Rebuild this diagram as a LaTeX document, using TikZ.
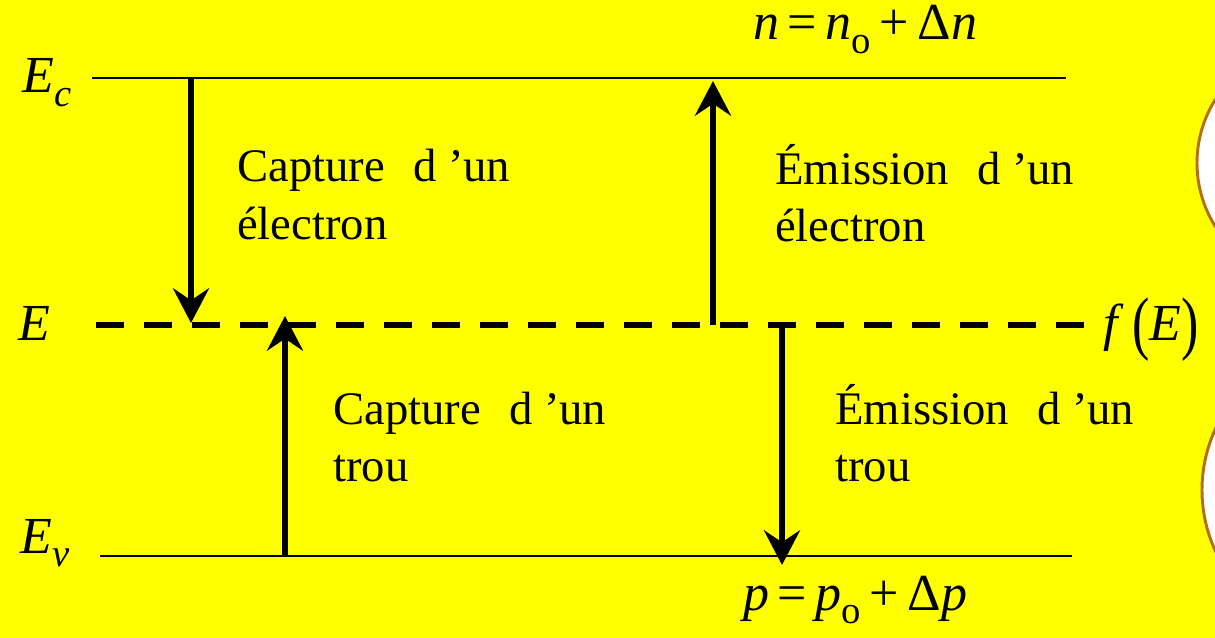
\documentclass[tikz,border=0pt]{standalone}
\usepackage{fontspec}
\setmainfont{Liberation Serif}
\usetikzlibrary{arrows.meta}
\definecolor{bg}{HTML}{FFFF00}
\definecolor{rim}{HTML}{B06E1E}
\newcommand{\lowsub}[1]{\raisebox{-0.26em}{\fontsize{29}{30}\selectfont #1}}
\newcommand{\bigpar}[1]{\raisebox{-0.12em}{\scalebox{1}[1.35]{#1}}}
\begin{document}
\begin{tikzpicture}[x=0.75pt,y=-0.75pt,
  level/.style={line width=2.2pt},
  trap/.style={line width=4.8pt, dash pattern=on 21pt off 15pt},
  jump/.style={line width=5pt,-{Stealth[length=26pt,width=27pt,inset=9pt]}},
  txt/.style={anchor=base west, inner sep=0pt, font=\fontsize{35}{40}\selectfont},
  mth/.style={anchor=base west, inner sep=0pt, font=\fontsize{39}{44}\selectfont},
  bubble/.style={fill=white, draw=rim, line width=2.2pt}]
\useasboundingbox (0,0) rectangle (1215,638);
\clip (0,0) rectangle (1215,638);
\fill[bg] (0,0) rectangle (1215,638);

% side bubbles
\draw[bubble] (1316,163) circle[radius=89.25pt];
\draw[bubble] (1347,490) circle[radius=108.75pt];

% levels
\coordinate (ecL) at (92,78);   \coordinate (ecR) at (1066,78);
\coordinate (etL) at (96,325);  \coordinate (etR) at (1095,325);
\coordinate (evL) at (100,556); \coordinate (evR) at (1072,556);
\draw[level] (ecL) -- (ecR);
\draw[trap] (etL) -- (etR);
\draw[level] (evL) -- (evR);

% transitions
\coordinate (a1s) at (191,78);  \coordinate (a1e) at (191,323);
\coordinate (a2s) at (285,557); \coordinate (a2e) at (285,316);
\coordinate (a3s) at (713,325); \coordinate (a3e) at (713,81);
\coordinate (a4s) at (782,325); \coordinate (a4e) at (782,565);
\draw[jump] (a1s) -- (a1e);
\draw[jump] (a2s) -- (a2e);
\draw[jump] (a3s) -- (a3e);
\draw[jump] (a4s) -- (a4e);

% level labels
\node[mth] (lEc) at (22,93) {\textit{E}\lowsub{\textit{c}}};
\node[mth] (lE) at (18,340) {\textit{E}};
\node[mth] (lEv) at (20,553) {\textit{E}\lowsub{\textit{v}}};
\node[mth] (lf) at (1103,340) {\textit{f}\,\bigpar{(}\textit{E}\bigpar{)}};
\node[mth] (ln) at (753,40) {\textit{n}\,=\,\textit{n}\lowsub{o}\,+\,Δ\textit{n}};
\node[mth] (lp) at (743,610) {\textit{p}\,=\,\textit{p}\lowsub{o}\,+\,Δ\textit{p}};

% process texts
\node[txt] (t1a) at (237,182) {Capture\hspace{0.6em}d ’un};
\node[txt] (t1b) at (237,240) {électron};
\node[txt] (t3a) at (775,185) {Émission\hspace{0.6em}d ’un};
\node[txt] (t3b) at (775,242) {électron};
\node[txt] (t2a) at (333,424) {Capture\hspace{0.6em}d ’un};
\node[txt] (t2b) at (333,481) {trou};
\node[txt] (t4a) at (835,424) {Émission\hspace{0.6em}d ’un};
\node[txt] (t4b) at (835,481) {trou};
\end{tikzpicture}
\end{document}
